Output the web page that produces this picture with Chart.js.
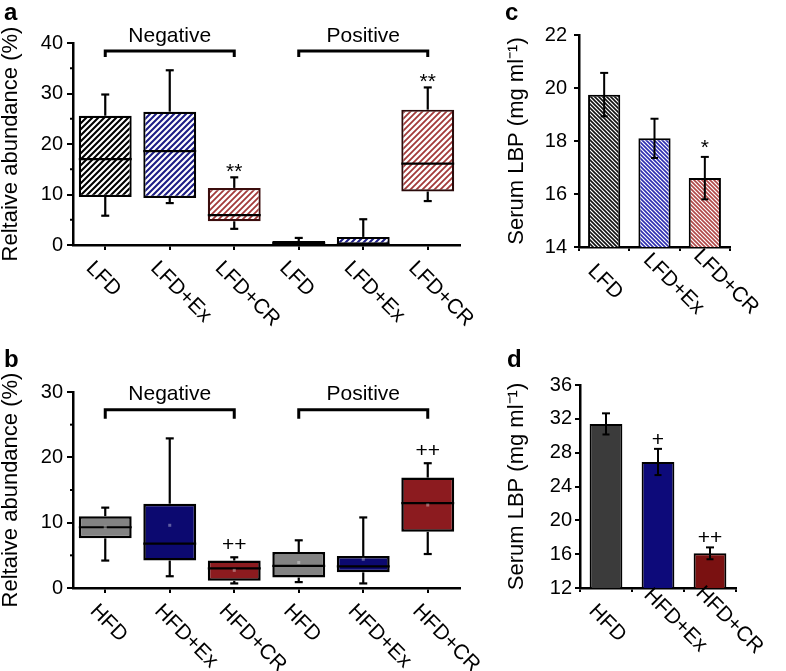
<!DOCTYPE html>
<html>
<head>
<meta charset="utf-8">
<title>Relative abundance and serum LBP</title>
<script src="https://cdn.jsdelivr.net/npm/chart.js@4.4.1/dist/chart.umd.min.js"></script>
<style>
  html, body { margin: 0; padding: 0; background: #fff; }
  #fig { position: relative; width: 786px; height: 671px; overflow: hidden; }
  #fig canvas { position: absolute; }
</style>
</head>
<body>
<div id="fig">
  <canvas id="panelA" width="480" height="340" style="left:0;top:0"></canvas>
  <canvas id="panelB" width="480" height="331" style="left:0;top:340px"></canvas>
  <canvas id="panelC" width="316" height="340" style="left:470px;top:0"></canvas>
  <canvas id="panelD" width="316" height="331" style="left:470px;top:340px"></canvas>
</div>
<script>
// panel a: LFD groups, relative abundance (%) box plots
const labelsA = ["LFD", "LFD+Ex", "LFD+CR", "LFD", "LFD+Ex", "LFD+CR"];
const lowA = [5.8, 8.3, 3.2, 0.05, 0.1, 8.7];
const q1A = [9.5, 9.3, 4.7, 0.1, 0.1, 10.6];
const medA = [17.0, 18.6, 5.9, 0.4, 0.1, 16.1];
const q3A = [25.6, 26.4, 11.3, 0.8, 1.6, 26.8];
const highA = [29.8, 34.6, 13.4, 1.4, 5.1, 31.2];
const marksA = ["", "", "**", "", "", "**"];

// panel b: HFD groups
const labelsB = ["HFD", "HFD+Ex", "HFD+CR", "HFD", "HFD+Ex", "HFD+CR"];
const lowB = [4.2, 1.8, 0.7, 0.9, 0.7, 5.2];
const q1B = [7.6, 4.2, 1.1, 1.6, 2.4, 8.6];
const medB = [9.3, 6.8, 3.0, 3.4, 3.3, 13.0];
const q3B = [11.0, 12.9, 4.2, 5.5, 4.9, 16.9];
const highB = [12.3, 22.9, 4.7, 7.3, 10.8, 19.1];
const meanB = [9.3, 9.6, 2.7, 3.9, 4.4, 12.7];
const marksB = ["", "", "++", "", "", "++"];

const groupNames = ["Negative", "Positive"];
const groupFrom = [0, 3];
const groupTo = [2, 5];

// panel c: serum LBP, LFD groups
const labelsC = ["LFD", "LFD+Ex", "LFD+CR"];
const lbpC = [19.75, 18.1, 16.6];
const lbpErrC = [0.82, 0.74, 0.8];
const marksC = ["", "", "*"];

// panel d: serum LBP, HFD groups
const labelsD = ["HFD", "HFD+Ex", "HFD+CR"];
const lbpD = [31.4, 26.9, 16.1];
const lbpErrD = [1.25, 1.55, 0.7];
const marksD = ["", "+", "++"];

const FONT = '"Liberation Sans", Arial, Helvetica, sans-serif';
Chart.defaults.font.family = FONT;
Chart.defaults.color = "#000";
Chart.defaults.animation = false;

function hatch(color, size, width, dir) {
  const c = document.createElement("canvas");
  c.width = size;
  c.height = size;
  const g = c.getContext("2d");
  g.fillStyle = "#fff";
  g.fillRect(0, 0, size, size);
  g.strokeStyle = color;
  g.lineWidth = width;
  g.beginPath();
  for (let k = -size; k <= size; k += size) {
    if (dir === "/") {
      g.moveTo(k - size, 2 * size);
      g.lineTo(k + 2 * size, -size);
    } else {
      g.moveTo(k - size, -size);
      g.lineTo(k + 2 * size, 2 * size);
    }
  }
  g.stroke();
  return g.createPattern(c, "repeat");
}

function pick(v, i) {
  return Array.isArray(v) ? v[i] : v;
}

const extrasPlugin = {
  id: "extras",
  afterDraw(chart, _args, o) {
    const { ctx } = chart;
    const x = chart.scales.x;
    const y = chart.scales.y;
    const bars = chart.getDatasetMeta(0).data;
    const tops = [];
    ctx.save();
    ctx.strokeStyle = "#000";
    ctx.fillStyle = "#000";
    ctx.lineCap = "butt";

    const seg = (x0, y0, x1, y1) => {
      ctx.beginPath();
      ctx.moveTo(x0, y0);
      ctx.lineTo(x1, y1);
      ctx.stroke();
    };

    if (o.minorStep) {
      ctx.lineWidth = 2;
      for (let v = y.min + o.minorStep; v < y.max; v += 2 * o.minorStep) {
        const py = y.getPixelForValue(v);
        seg(x.left - o.minorLen, py, x.left, py);
      }
    }

    if (o.box) {
      const b = o.box;
      bars.forEach((bar, i) => {
        const cx = bar.x;
        const half = bar.width / 2;
        const pLow = y.getPixelForValue(b.low[i]);
        const pQ1 = y.getPixelForValue(b.q1[i]);
        const pMed = y.getPixelForValue(b.med[i]);
        const pQ3 = y.getPixelForValue(b.q3[i]);
        const pHigh = y.getPixelForValue(b.high[i]);
        ctx.lineWidth = 2.2;
        if (pHigh < pQ3) {
          seg(cx, pQ3, cx, pHigh);
          seg(cx - 4, pHigh, cx + 4, pHigh);
        }
        if (pLow > pQ1) {
          seg(cx, pQ1, cx, pLow);
          seg(cx - 4, pLow, cx + 4, pLow);
        }
        seg(cx - half, pMed, cx + half, pMed);
        if (b.mean) {
          ctx.fillStyle = "rgba(255,255,255,0.35)";
          ctx.fillRect(cx - 1.5, y.getPixelForValue(b.mean[i]) - 1.5, 3, 3);
          ctx.fillStyle = "#000";
        }
        tops.push(pHigh);
      });
    }

    if (o.err) {
      const e = o.err;
      bars.forEach((bar, i) => {
        const cx = bar.x;
        const pt = y.getPixelForValue(e.mean[i] + e.err[i]);
        const pb = y.getPixelForValue(e.mean[i] - e.err[i]);
        ctx.lineWidth = 2;
        seg(cx, pt, cx, pb);
        seg(cx - 4, pt, cx + 4, pt);
        seg(cx - 3.5, pb, cx + 3.5, pb);
        tops.push(pt);
      });
    }

    if (o.marks) {
      ctx.font = `${o.markSize}px ${FONT}`;
      ctx.textAlign = "center";
      ctx.textBaseline = "alphabetic";
      o.marks.forEach((m, i) => {
        if (!m) return;
        ctx.fillText(m, bars[i].x, tops[i] - o.markGap);
      });
    }

    if (o.groups) {
      const g = o.groups;
      ctx.lineWidth = 3;
      ctx.lineJoin = "miter";
      ctx.font = `${g.size}px ${FONT}`;
      ctx.textAlign = "center";
      ctx.textBaseline = "alphabetic";
      g.names.forEach((name, k) => {
        const x0 = x.getPixelForValue(g.from[k]);
        const x1 = x.getPixelForValue(g.to[k]);
        const by = y.getPixelForValue(g.level);
        ctx.beginPath();
        ctx.moveTo(x0, by + g.drop);
        ctx.lineTo(x0, by);
        ctx.lineTo(x1, by);
        ctx.lineTo(x1, by + g.drop);
        ctx.stroke();
        ctx.fillText(name, (x0 + x1) / 2, by - g.textGap);
      });
    }

    if (o.xLabels) {
      const L = o.xLabels;
      ctx.font = `${L.size}px ${FONT}`;
      ctx.textAlign = "left";
      ctx.textBaseline = "middle";
      chart.data.labels.forEach((lab, i) => {
        ctx.save();
        ctx.translate(x.getPixelForValue(i) + pick(L.dx, i), x.top + pick(L.dy, i));
        ctx.rotate(Math.PI / 4);
        ctx.fillText(lab, 0, 0);
        ctx.restore();
      });
    }

    if (o.letter) {
      ctx.font = `bold 24px ${FONT}`;
      ctx.textAlign = "left";
      ctx.textBaseline = "alphabetic";
      ctx.fillText(o.letter.text, o.letter.x, o.letter.y);
    }
    ctx.restore();
  },
};

function yAxis({ min, max, step, title, width, tickLen, pad }) {
  return {
    min,
    max,
    ticks: { stepSize: step, padding: pad, font: { size: 20 }, color: "#000" },
    grid: { drawOnChartArea: false, drawTicks: true, tickLength: tickLen, color: "#000", lineWidth: 2 },
    border: { display: true, color: "#000", width: 2.5 },
    title: { display: true, text: title, font: { size: 22, lineHeight: 1 }, padding: 0, color: "#000" },
    afterFit: (scale) => { scale.width = width; },
  };
}

function xAxis({ height, gridOffset, tickLen }) {
  return {
    offset: true,
    grid: { offset: gridOffset, drawOnChartArea: false, drawTicks: true, tickLength: tickLen, color: "#000", lineWidth: 2 },
    border: { display: true, color: "#000", width: 2.5 },
    ticks: { display: false },
    afterFit: (scale) => { scale.height = height; },
  };
}

function baseOptions(padding, scales, extras) {
  return {
    responsive: false,
    animation: false,
    layout: { padding },
    scales,
    plugins: { legend: { display: false }, tooltip: { enabled: false }, extras },
  };
}

const abundanceTitle = "Reltaive abundance (%)";
const lbpTitle = "Serum LBP (mg ml\u207B\u00B9)";

new Chart(document.getElementById("panelA"), {
  type: "bar",
  data: {
    labels: labelsA,
    datasets: [{
      data: q1A.map((v, i) => [v, q3A[i]]),
      backgroundColor: [
        hatch("#000", 6, 2.1, "/"), hatch("#1d1d86", 6, 2.1, "/"), hatch("#a33a3a", 6, 1.8, "/"),
        hatch("#000", 6, 2.1, "/"), hatch("#1d1d86", 6, 2.1, "/"), hatch("#a33a3a", 6, 1.8, "/"),
      ],
      borderColor: ["#000", "#000", "#3b0d0d", "#000", "#000", "#2a0a0a"],
      borderWidth: 2.2,
      borderSkipped: false,
      barPercentage: 0.82,
      categoryPercentage: 1,
    }],
  },
  options: baseOptions(
    { left: 0, top: 43, right: 20, bottom: 0 },
    {
      x: xAxis({ height: 95, gridOffset: false, tickLen: 5 }),
      y: yAxis({ min: 0, max: 40, step: 10, title: abundanceTitle, width: 73, tickLen: 6, pad: 4 }),
    },
    {
      minorStep: 5, minorLen: 3,
      box: { low: lowA, q1: q1A, med: medA, q3: q3A, high: highA },
      marks: marksA, markSize: 21, markGap: -1,
      groups: { names: groupNames, from: groupFrom, to: groupTo, level: 38.4, drop: 6, textGap: 9, size: 21 },
      xLabels: { size: 21, dx: -16, dy: 20 },
      letter: { text: "a", x: 4, y: 20 },
    },
  ),
  plugins: [extrasPlugin],
});

new Chart(document.getElementById("panelB"), {
  type: "bar",
  data: {
    labels: labelsB,
    datasets: [{
      data: q1B.map((v, i) => [v, q3B[i]]),
      backgroundColor: ["#838383", "#0c0970", "#8c1b1f", "#838383", "#0c0970", "#8c1b1f"],
      borderColor: "#000",
      borderWidth: 2.5,
      borderSkipped: false,
      barPercentage: 0.82,
      categoryPercentage: 1,
    }],
  },
  options: baseOptions(
    { left: 0, top: 52, right: 20, bottom: 0 },
    {
      x: xAxis({ height: 83, gridOffset: false, tickLen: 5 }),
      y: yAxis({ min: 0, max: 30, step: 10, title: abundanceTitle, width: 73, tickLen: 6, pad: 4 }),
    },
    {
      minorStep: 5, minorLen: 3,
      box: { low: lowB, q1: q1B, med: medB, q3: q3B, high: highB, mean: meanB },
      marks: marksB, markSize: 21, markGap: 6,
      groups: { names: groupNames, from: groupFrom, to: groupTo, level: 27.3, drop: 9, textGap: 10, size: 21 },
      xLabels: { size: 21, dx: -12, dy: 20 },
      letter: { text: "b", x: 4, y: 27 },
    },
  ),
  plugins: [extrasPlugin],
});

new Chart(document.getElementById("panelC"), {
  type: "bar",
  data: {
    labels: labelsC,
    datasets: [{
      data: lbpC,
      backgroundColor: [hatch("#111", 4, 1.6, "\\"), hatch("#2e2eb0", 4, 1.6, "\\"), hatch("#b04848", 4, 1.6, "\\")],
      borderColor: "#000",
      borderWidth: 2,
      borderSkipped: false,
      barPercentage: 0.64,
      categoryPercentage: 1,
    }],
  },
  options: baseOptions(
    { left: 36, top: 35, right: 56, bottom: 0 },
    {
      x: xAxis({ height: 93, gridOffset: true, tickLen: 4 }),
      y: yAxis({ min: 14, max: 22, step: 2, title: lbpTitle, width: 73, tickLen: 5, pad: 7 }),
    },
    {
      err: { mean: lbpC, err: lbpErrC },
      marks: marksC, markSize: 21, markGap: 3,
      xLabels: { size: 21, dx: [-13, -8, -8], dy: [21, 10, 6] },
      letter: { text: "c", x: 35, y: 20 },
    },
  ),
  plugins: [extrasPlugin],
});

new Chart(document.getElementById("panelD"), {
  type: "bar",
  data: {
    labels: labelsD,
    datasets: [{
      data: lbpD,
      backgroundColor: ["#3b3b3b", "#0d0a7a", "#7a1111"],
      borderColor: "#000",
      borderWidth: 2,
      borderSkipped: false,
      barPercentage: 0.63,
      categoryPercentage: 1,
    }],
  },
  options: baseOptions(
    { left: 36, top: 45, right: 50, bottom: 0 },
    {
      x: xAxis({ height: 83, gridOffset: true, tickLen: 4 }),
      y: yAxis({ min: 12, max: 36, step: 4, title: lbpTitle, width: 74, tickLen: 5, pad: 3 }),
    },
    {
      err: { mean: lbpD, err: lbpErrD },
      marks: marksD, markSize: 21, markGap: 3,
      xLabels: { size: 21, dx: [-14, -11, -11], dy: [20, 4, 2] },
      letter: { text: "d", x: 37, y: 27 },
    },
  ),
  plugins: [extrasPlugin],
});
</script>
</body>
</html>
